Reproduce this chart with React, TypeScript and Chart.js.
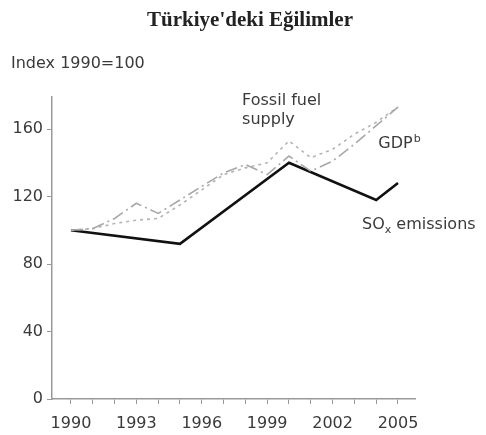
import React, { useEffect, useRef } from "react";
import { Chart, registerables } from "chart.js";

Chart.register(...registerables);

const years = [1990, 1991, 1992, 1993, 1994, 1995, 1996, 1997, 1998, 1999, 2000, 2001, 2002, 2003, 2004, 2005];
const gdpValues = [100, 101, 107, 116, 110, 118, 126, 134, 139, 133, 144, 135, 141, 151, 162, 173];
const fossilValues = [100, 101, 104, 106, 107, 115, 124, 133, 137, 140, 153, 143, 148, 157, 164, 173];
const soxYears = [1990, 1995, 2000, 2004, 2005];
const soxValues = [100, 92, 140, 118, 128];
const yTicks = [0, 40, 80, 120, 160];
const xLabelYears = [1990, 1993, 1996, 1999, 2002, 2005];

const titleText = "Türkiye'deki Eğilimler";
const yAxisTitle = "Index 1990=100";

const SANS = "'DejaVu Sans', Verdana, sans-serif";
const SERIF = "'Liberation Serif', 'Times New Roman', serif";
const FS = 16;

const annotationPlugin = {
  id: "annotations",
  afterDraw(chart: any) {
    const ctx = chart.ctx;
    const xs = chart.scales.x;
    const ys = chart.scales.y;
    ctx.save();
    // title
    ctx.fillStyle = "#222";
    ctx.font = `bold 21px ${SERIF}`;
    ctx.textAlign = "center";
    ctx.textBaseline = "middle";
    ctx.fillText(titleText, 250, 21);
    // axis caption
    ctx.fillStyle = "#3a3a3a";
    ctx.font = `${FS}px ${SANS}`;
    ctx.textAlign = "left";
    ctx.textBaseline = "middle";
    ctx.fillText(yAxisTitle, 11, 64);
    // series labels
    ctx.fillText("Fossil fuel", xs.getPixelForValue(1997.85), ys.getPixelForValue(177));
    ctx.fillText("supply", xs.getPixelForValue(1997.85), ys.getPixelForValue(165.5));
    const gx = xs.getPixelForValue(2004.1);
    const gy = ys.getPixelForValue(151);
    ctx.fillText("GDP", gx, gy);
    const gw = ctx.measureText("GDP").width;
    ctx.font = `11px ${SANS}`;
    ctx.fillText("b", gx + gw + 1, gy - 5);
    ctx.font = `${FS}px ${SANS}`;
    const sx = xs.getPixelForValue(2003.35);
    const sy = ys.getPixelForValue(103);
    ctx.fillText("SO", sx, sy);
    const sw = ctx.measureText("SO").width;
    ctx.font = `11px ${SANS}`;
    ctx.fillText("x", sx + sw, sy + 5);
    const xw = ctx.measureText("x").width;
    ctx.font = `${FS}px ${SANS}`;
    ctx.fillText(" emissions", sx + sw + xw, sy);
    ctx.restore();
  },
};

export default function App() {
  const ref = useRef<HTMLCanvasElement | null>(null);
  useEffect(() => {
    if (!ref.current) return;
    const chart = new Chart(ref.current, {
      type: "line",
      data: {
        datasets: [
          {
            label: "GDP",
            data: years.map((y, i) => ({ x: y, y: gdpValues[i] })),
            borderColor: "#a8a8a8",
            borderWidth: 1.6,
            borderDash: [12, 4, 2, 4],
            pointRadius: 0,
            tension: 0,
          },
          {
            label: "Fossil fuel supply",
            data: years.map((y, i) => ({ x: y, y: fossilValues[i] })),
            borderColor: "#b4b4b4",
            borderWidth: 1.6,
            borderDash: [3, 4],
            pointRadius: 0,
            tension: 0,
          },
          {
            label: "SOx emissions",
            data: soxYears.map((y, i) => ({ x: y, y: soxValues[i] })),
            borderColor: "#111",
            borderWidth: 2.6,
            pointRadius: 0,
            tension: 0,
          },
        ],
      },
      options: {
        animation: false,
        responsive: false,
        maintainAspectRatio: false,
        layout: { padding: { left: 0, top: 97, right: 71, bottom: 0 } },
        plugins: { legend: { display: false }, tooltip: { enabled: false }, title: { display: false } },
        scales: {
          x: {
            type: "linear",
            min: 1989.13,
            max: 2005.78,
            afterBuildTicks: (s: any) => {
              s.ticks = years.map((v) => ({ value: v }));
            },
            afterFit: (s: any) => {
              s.height = 36;
            },
            ticks: {
              autoSkip: false,
              maxRotation: 0,
              padding: 10,
              color: "#3a3a3a",
              font: { family: SANS, size: FS },
              callback: (v: any) => (xLabelYears.includes(Number(v)) ? String(v) : ""),
            },
            grid: { display: true, drawOnChartArea: false, drawTicks: true, tickLength: 5, color: "#999" },
            border: { display: true, color: "#999", width: 1.5 },
          },
          y: {
            type: "linear",
            min: 0,
            max: 179,
            afterBuildTicks: (s: any) => {
              s.ticks = yTicks.map((v) => ({ value: v }));
            },
            afterFit: (s: any) => {
              s.width = 52;
            },
            ticks: {
              padding: 4,
              color: "#3a3a3a",
              font: { family: SANS, size: FS },
            },
            grid: { display: true, drawOnChartArea: false, drawTicks: true, tickLength: 5, color: "#999" },
            border: { display: true, color: "#999", width: 1.5 },
          },
        },
      },
      plugins: [annotationPlugin],
    });
    return () => chart.destroy();
  }, []);
  return (
    <div style={{ position: "absolute", left: 0, top: 0, width: 486, height: 435, background: "#fff" }}>
      <canvas ref={ref} width={486} height={435} style={{ width: 486, height: 435, display: "block" }} />
    </div>
  );
}
